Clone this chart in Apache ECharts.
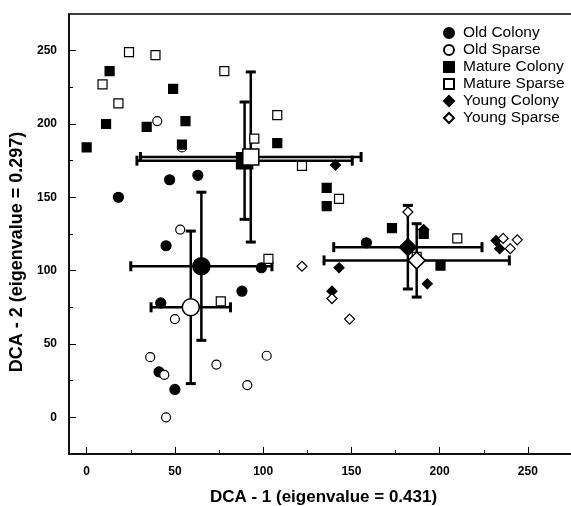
<!DOCTYPE html>
<html>
<head>
<meta charset="utf-8">
<script src="https://cdn.jsdelivr.net/npm/echarts@6/dist/echarts.min.js"></script>
<style>
	html, body {margin: 0; padding: 0; background: #fff;}
	#chartDca {width: 571px; height: 506px;}
</style>
</head>
<body>
<div id="chartDca"></div>
<script>
// site scores [x, y]
var oldColony = [[18,150],[47,162],[63,165],[45,117],[99,102],[88,86],[42,78],[41,31],[50,19],[158.5,119]];
var oldSparse = [[40,202],[54,184],[53,128],[50,67],[36,41],[102,42],[73.5,36],[44,29],[91,22],[45,0]];
var matureColony = [[13,236],[49,224],[11,200],[34,198],[56,202],[0,184],[54,186],[108,187],[136,156.5],[136,144],[173,129],[191,125],[200.5,103.5]];
var matureSparse = [[24,249],[39,247],[9,227],[18,214],[78,236],[108,206],[95,190],[122,171.5],[143,149],[103,108],[76,79],[210,122],[187,109.5]];
var youngColony = [[141,172],[143,102],[139,86],[193,91],[191,128],[232,120.5],[234,115]];
var youngSparse = [[182,140],[122,103],[139,81],[149,67],[236,122],[240,115],[244,121]];

// group means and error bars, order as groupNames
var groupNames = ['Old Colony','Old Sparse','Mature Colony','Mature Sparse','Young Colony','Young Sparse'];
var meanX = [65, 59, 89.5, 93, 182, 187];
var meanY = [103, 75, 175, 177.5, 116, 107];
var errX = [40, 22.5, 61, 62.5, 42, 52.5];
var errY = [50.5, 52, 40, 58, 28.5, 25];

// axis ticks
var majorTicks = [0, 50, 100, 150, 200, 250];
var minorTicks = [25, 75, 125, 175, 225];

var fontName = 'Liberation Sans, Arial, Helvetica, sans-serif';

viewChart();

function viewChart() {
	var myChart = echarts.init(document.getElementById('chartDca'));

	// marker look per group: filled or open
	var looks = [
		{symbol: 'circle', size: 10, mean: 17, fill: '#000'},
		{symbol: 'circle', size: 9, mean: 17, fill: '#fff'},
		{symbol: 'rect', size: 9, mean: 16, fill: '#000'},
		{symbol: 'rect', size: 9, mean: 16, fill: '#fff'},
		{symbol: 'diamond', size: 10, mean: 17, fill: '#000'},
		{symbol: 'diamond', size: 10, mean: 17, fill: '#fff'}
	];
	var groups = [oldColony, oldSparse, matureColony, matureSparse, youngColony, youngSparse];

	var errData = [];
	for (var i = 0; i < groupNames.length; i++) {
		errData.push([meanX[i], meanY[i], errX[i], errY[i]]);
	}

	var series = [{
		type: 'custom',
		name: 'errors',
		renderItem: renderErrorBar,
		encode: {x: 0, y: 1},
		data: errData,
		z: 1,
		silent: true
	}];

	for (var g = 0; g < groups.length; g++) {
		series.push({
			type: 'scatter',
			name: groupNames[g],
			symbol: looks[g].symbol,
			symbolSize: looks[g].size,
			data: groups[g],
			itemStyle: {color: looks[g].fill, borderColor: '#000', borderWidth: 1.2, opacity: 1},
			z: 2
		});
	}
	// big markers for the means, drawn on top
	for (var m = 0; m < groupNames.length; m++) {
		series.push({
			type: 'scatter',
			name: groupNames[m] + ' mean',
			symbol: looks[m].symbol,
			symbolSize: looks[m].mean,
			data: [[meanX[m], meanY[m]]],
			itemStyle: {color: looks[m].fill, borderColor: '#000', borderWidth: 1.5, opacity: 1},
			z: 3
		});
	}

	var option = {
		animation: false,
		textStyle: {fontFamily: fontName},
		grid: {
			left: 69, right: -1, top: 14, bottom: 52,
			outerBoundsMode: 'none',
			show: true, borderColor: '#000', borderWidth: 1.5
		},
		legend: {
			orient: 'vertical',
			left: 438,
			top: 20,
			itemWidth: 10,
			itemHeight: 10,
			itemGap: 1,
			data: groupNames,
			textStyle: {fontSize: 15.5, color: '#000', fontFamily: fontName, padding: [0, 0, 0, 4]}
		},
		xAxis: [{
			type: 'value',
			min: -10,
			max: 275,
			name: 'DCA - 1 (eigenvalue = 0.431)',
			nameLocation: 'middle',
			nameGap: 35,
			nameTextStyle: {fontSize: 17, fontWeight: 'bold', color: '#000', padding: [0, 0, 0, 6]},
			axisLine: {onZero: false, lineStyle: {color: '#000', width: 1.5}},
			axisTick: {inside: true, length: 7, customValues: majorTicks, lineStyle: {color: '#000'}},
			axisLabel: {customValues: majorTicks, margin: 12, fontSize: 12, fontWeight: 'bold', color: '#000'},
			splitLine: {show: false}
		}, {
			type: 'value',
			min: -10,
			max: 275,
			position: 'bottom',
			axisLine: {show: false, onZero: false},
			axisTick: {inside: true, length: 4, customValues: minorTicks, lineStyle: {color: '#000'}},
			axisLabel: {show: false},
			splitLine: {show: false}
		}],
		yAxis: [{
			type: 'value',
			min: -25,
			max: 275,
			name: 'DCA - 2 (eigenvalue = 0.297)',
			nameLocation: 'middle',
			nameGap: 42,
			nameTextStyle: {fontSize: 18, fontWeight: 'bold', color: '#000', padding: [0, 36, 0, 0]},
			axisLine: {onZero: false, lineStyle: {color: '#000', width: 1.5}},
			axisTick: {inside: true, length: 7, customValues: majorTicks, lineStyle: {color: '#000'}},
			axisLabel: {customValues: majorTicks, margin: 12, fontSize: 12, fontWeight: 'bold', color: '#000'},
			splitLine: {show: false}
		}, {
			type: 'value',
			min: -25,
			max: 275,
			position: 'left',
			axisLine: {show: false, onZero: false},
			axisTick: {inside: true, length: 4, customValues: minorTicks, lineStyle: {color: '#000'}},
			axisLabel: {show: false},
			splitLine: {show: false}
		}],
		series: series
	};
	myChart.setOption(option);
}

/**
 * cross shaped error bar with caps
 */
function renderErrorBar(params, api) {
	var x = api.value(0), y = api.value(1);
	var ex = api.value(2), ey = api.value(3);
	var left = api.coord([x - ex, y]);
	var right = api.coord([x + ex, y]);
	var top = api.coord([x, y + ey]);
	var bottom = api.coord([x, y - ey]);
	var cap = 5;
	var style = {stroke: '#000', lineWidth: 2.5, fill: null};
	var capStyle = {stroke: '#000', lineWidth: 3, fill: null};
	return {
		type: 'group',
		children: [
			{type: 'line', shape: {x1: left[0], y1: left[1], x2: right[0], y2: right[1]}, style: style},
			{type: 'line', shape: {x1: top[0], y1: top[1], x2: bottom[0], y2: bottom[1]}, style: style},
			{type: 'line', shape: {x1: left[0], y1: left[1] - cap, x2: left[0], y2: left[1] + cap}, style: capStyle},
			{type: 'line', shape: {x1: right[0], y1: right[1] - cap, x2: right[0], y2: right[1] + cap}, style: capStyle},
			{type: 'line', shape: {x1: top[0] - cap, y1: top[1], x2: top[0] + cap, y2: top[1]}, style: capStyle},
			{type: 'line', shape: {x1: bottom[0] - cap, y1: bottom[1], x2: bottom[0] + cap, y2: bottom[1]}, style: capStyle}
		]
	};
}
</script>
</body>
</html>
